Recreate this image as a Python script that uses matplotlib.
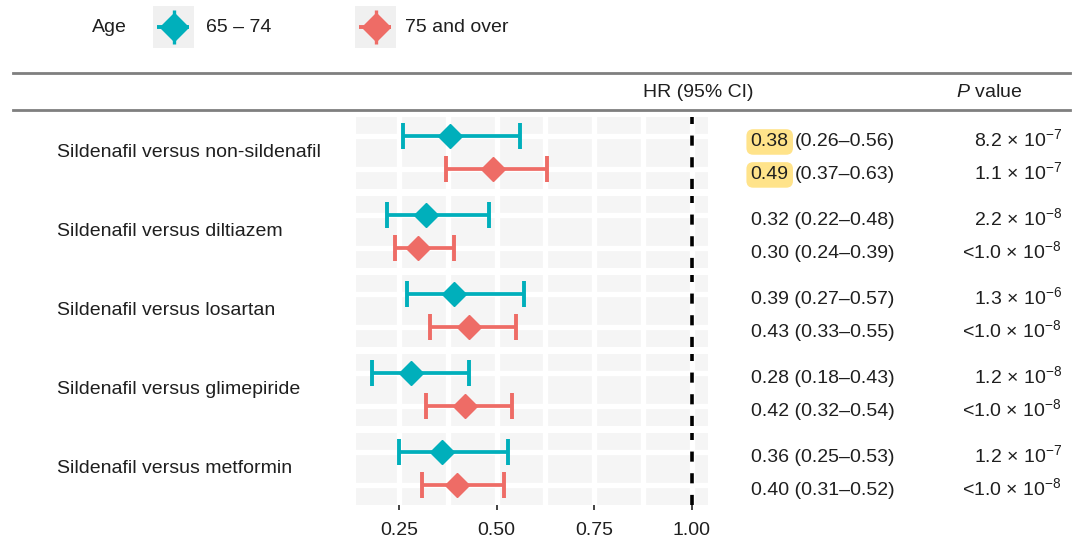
import numpy as np
import matplotlib
matplotlib.use('Agg')
import matplotlib.pyplot as plt
from matplotlib.lines import Line2D

plt.rcParams['font.family'] = ['Liberation Sans', 'DejaVu Sans']
plt.rcParams['mathtext.fontset'] = 'custom'
plt.rcParams['mathtext.rm'] = 'Liberation Sans'
plt.rcParams['mathtext.it'] = 'Liberation Sans:italic'
plt.rcParams['mathtext.bf'] = 'Liberation Sans:bold'

# data
comparisons = ['Sildenafil versus non-sildenafil', 'Sildenafil versus diltiazem',
               'Sildenafil versus losartan', 'Sildenafil versus glimepiride',
               'Sildenafil versus metformin']
age_groups = ['65 – 74', '75 and over']

hr_young = [0.38, 0.32, 0.39, 0.28, 0.36]
lo_young = [0.26, 0.22, 0.27, 0.18, 0.25]
hi_young = [0.56, 0.48, 0.57, 0.43, 0.53]
p_young = ['8.2 × 10$^{-7}$', '2.2 × 10$^{-8}$', '1.3 × 10$^{-6}$',
           '1.2 × 10$^{-8}$', '1.2 × 10$^{-7}$']

hr_old = [0.49, 0.30, 0.43, 0.42, 0.40]
lo_old = [0.37, 0.24, 0.33, 0.32, 0.31]
hi_old = [0.63, 0.39, 0.55, 0.54, 0.52]
p_old = ['1.1 × 10$^{-7}$', '<1.0 × 10$^{-8}$', '<1.0 × 10$^{-8}$',
         '<1.0 × 10$^{-8}$', '<1.0 × 10$^{-8}$']

highlight = [True, False, False, False, False]
x_ticks = [0.25, 0.50, 0.75, 1.00]
x_tick_labels = ['0.25', '0.50', '0.75', '1.00']

colors = ['#00AFBB', '#EE6C66']
txt = '#1f1f1f'
FS = 14

W, H = 1080, 553
fig = plt.figure(figsize=(W / 100, H / 100), dpi=100)


def fx(x):
    return x / W


def fy(y):
    return 1 - y / H


# panel geometry in pixels
left, right = 356, 707.7
top0, pitch, ph = 116.7, 79, 72.5

series = [(hr_young, lo_young, hi_young), (hr_old, lo_old, hi_old)]
for i, name in enumerate(comparisons):
    top = top0 + pitch * i
    ax = fig.add_axes([fx(left), fy(top + ph), (right - left) / W, ph / H])
    ax.set_facecolor('#F5F5F5')
    ax.set_xlim(0.14, 1.041)
    ax.set_ylim(2.6, 0.4)
    ax.set_xticks(x_ticks)
    ax.set_xticks([0.375, 0.625, 0.875], minor=True)
    ax.set_yticks([1, 2])
    ax.grid(which='both', color='white', lw=3.8)
    ax.set_axisbelow(True)
    for s in ax.spines.values():
        s.set_visible(False)
    ax.tick_params(axis='y', left=False, labelleft=False)
    ax.tick_params(axis='x', which='minor', bottom=False)
    if i < len(comparisons) - 1:
        ax.tick_params(axis='x', bottom=False, labelbottom=False)
    else:
        ax.set_xticklabels(x_tick_labels)
        ax.tick_params(axis='x', length=3.8, width=1.2, color='#222222', pad=8,
                       labelsize=FS, labelcolor=txt)

    ax.axvline(1.0, color='black', lw=2.6, ls=(0, (2.8, 3.2)), zorder=3)
    for k, (hr, lo, hi) in enumerate(series):
        ax.errorbar([hr[i]], [k + 1], xerr=[[hr[i] - lo[i]], [hi[i] - hr[i]]],
                    fmt='D', color=colors[k], ms=12, elinewidth=2.7,
                    capsize=9.6, capthick=2.8, zorder=4)

    fig.text(fx(57), fy(top + ph / 2 + 4.5), name, fontsize=FS, color=txt,
             ha='left', va='baseline')

# table on the right
renderer = fig.canvas.get_renderer()
for i in range(len(comparisons)):
    top = top0 + pitch * i
    for k, (hr, lo, hi) in enumerate(series):
        row_y = top + ph * 0.6 / 2.2 + k * ph / 2.2
        base = fy(row_y + 10)
        ci = f'({lo[i]:.2f}–{hi[i]:.2f})'
        if highlight[i]:
            t = fig.text(fx(750.7), base, f'{hr[i]:.2f}', fontsize=FS, color=txt,
                         ha='left', va='baseline',
                         bbox=dict(boxstyle='round,pad=0.22,rounding_size=0.35',
                                   fc='#FFE38A', ec='none'))
            bb = t.get_window_extent(renderer)
            fig.text(bb.x1 / W + fx(6.5), base, ci, fontsize=FS, color=txt,
                     ha='left', va='baseline')
        else:
            fig.text(fx(750.7), base, f'{hr[i]:.2f} {ci}', fontsize=FS, color=txt,
                     ha='left', va='baseline')
        pv = p_young[i] if k == 0 else p_old[i]
        fig.text(fx(1062), base, pv, fontsize=FS, color=txt, ha='right', va='baseline')

# header
for yy in (72.7, 110):
    fig.add_artist(Line2D([fx(13), fx(1070)], [fy(yy), fy(yy)], color='#7F7F7F', lw=2))
fig.text(fx(698), fy(97), 'HR (95% CI)', fontsize=FS, color=txt, ha='center', va='baseline')
fig.text(fx(989.5), fy(97), r'$P$ value', fontsize=FS, color=txt, ha='center', va='baseline')

# legend
fig.text(fx(91.7), fy(31.5), 'Age', fontsize=FS, color=txt, ha='left', va='baseline')
key_x = [153.3, 355]
lab_x = [206, 405]
for k in range(2):
    kax = fig.add_axes([fx(key_x[k]), fy(47.7), 41 / W, 41.7 / H])
    kax.set_facecolor('#F0F0F0')
    kax.set_xlim(0, 1)
    kax.set_ylim(0, 1)
    kax.set_xticks([])
    kax.set_yticks([])
    for s in kax.spines.values():
        s.set_visible(False)
    kax.plot([0.1, 0.88], [0.5, 0.5], color=colors[k], lw=2.8, solid_capstyle='butt')
    kax.plot([0.5, 0.5], [0.1, 0.9], color=colors[k], lw=2.4, solid_capstyle='butt')
    kax.plot([0.5], [0.5], 'D', color=colors[k], ms=14)
    fig.text(fx(lab_x[k]), fy(31.5), age_groups[k], fontsize=FS, color=txt,
             ha='left', va='baseline')

fig.savefig('out.png', dpi=100)
